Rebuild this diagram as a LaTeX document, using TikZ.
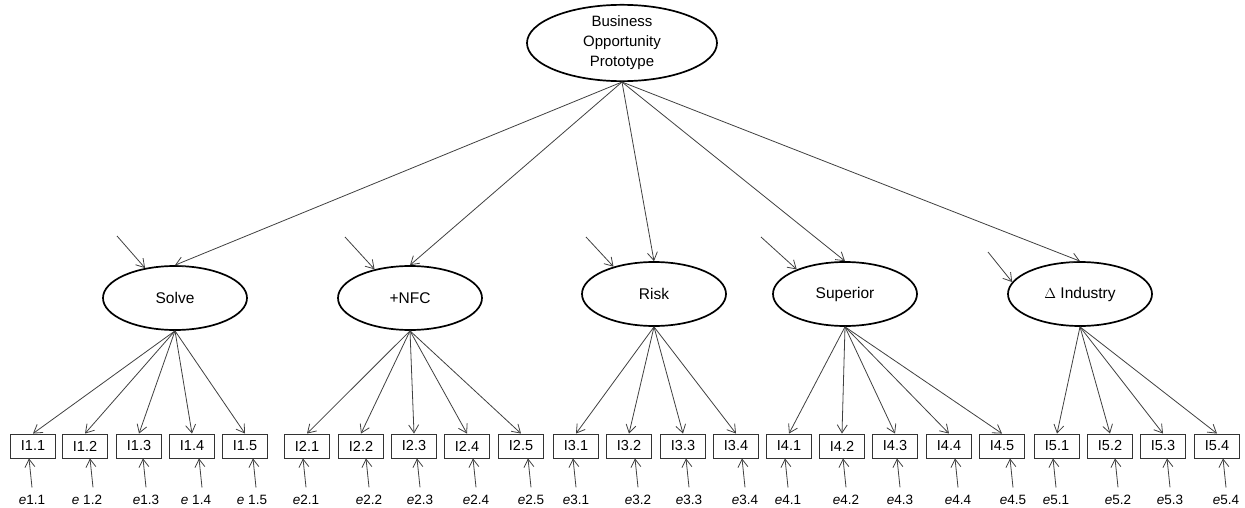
\documentclass[tikz,border=0pt]{standalone}
\usepackage{fontspec}
\setmainfont{Liberation Sans}
\usetikzlibrary{shapes.geometric,arrows.meta}

\tikzset{
  latent/.style={ellipse, draw=black, line width=1.7pt, fill=white,
    minimum width=144pt, minimum height=64pt, inner sep=0pt,
    font=\fontsize{15.5}{20}\selectfont},
  ind/.style={rectangle, draw=black!80, line width=0.9pt,
    minimum width=45pt, minimum height=24pt, inner sep=0pt,
    font=\fontsize{14.5}{16}\selectfont},
  err/.style={inner xsep=0pt, inner ysep=7pt, anchor=base,
    font=\fontsize{13.5}{15}\selectfont},
  conn/.style={draw=black!75, line width=0.8pt,
    -{Straight Barb[length=8pt,width=10pt]}},
}

\begin{document}
\begin{tikzpicture}[x=1pt,y=-1pt]
\useasboundingbox (0,0) rectangle (1245,508);

% second-order factor
\node[latent, minimum width=190pt, minimum height=72pt, align=center,
      font=\fontsize{15}{20}\selectfont] (top) at (622,43)
  {Business\\Opportunity\\Prototype};

% first-order factors
\node[latent] (f1) at (175,298) {Solve};
\node[latent] (f2) at (410,298) {+NFC};
\node[latent] (f3) at (654,294) {Risk};
\node[latent] (f4) at (845,294) {Superior};
\node[latent] (f5) at (1080,294) {$\Delta$ Industry};

% structural paths
\foreach \f in {1,...,5}
  \draw[conn] (top.south) -- (f\f.north);

% disturbances
\coordinate (d1) at (117,236);
\coordinate (d2) at (345,237);
\coordinate (d3) at (586,237);
\coordinate (d4) at (761,237);
\coordinate (d5) at (988,252);
\draw[conn] (d1) -- (f1.135);
\draw[conn] (d2) -- (f2.141);
\draw[conn] (d3) -- (f3.146);
\draw[conn] (d4) -- (f4.153);
\draw[conn] (d5) -- (f5.170);

% indicators: id / factor / box x / label / error label / tip offset / label shift
\foreach \n/\f/\x/\lab/\el/\tip/\lo in {
  11/1/33/I1.1/{\textit{e}1.1}/-4/0,
  12/1/85/I1.2/{\textit{e} 1.2}/5/6,
  13/1/139/I1.3/{\textit{e}1.3}/4/0,
  14/1/192/I1.4/{\textit{e} 1.4}/7/6,
  15/1/245/I1.5/{\textit{e} 1.5}/8/4,
  21/2/307/I2.1/{\textit{e}2.1}/-4/0,
  22/2/361/I2.2/{\textit{e}2.2}/5/0,
  23/2/414/I2.3/{\textit{e}2.3}/3/0,
  24/2/467/I2.4/{\textit{e}2.4}/6/0,
  25/2/521/I2.5/{\textit{e}2.5}/7/0,
  31/3/576/I3.1/{\textit{e}3.1}/-3/0,
  32/3/629/I3.2/{\textit{e}3.2}/6/0,
  33/3/683/I3.3/{\textit{e}3.3}/3/0,
  34/3/736/I3.4/{\textit{e}3.4}/6/0,
  41/4/789/I4.1/{\textit{e}4.1}/-4/0,
  42/4/842/I4.2/{\textit{e}4.2}/1/0,
  43/4/895/I4.3/{\textit{e}4.3}/2/0,
  44/4/949/I4.4/{\textit{e}4.4}/6/0,
  45/4/1002/I4.5/{\textit{e}4.5}/8/0,
  51/5/1057/I5.1/{\textit{e}5.1}/-4/0,
  52/5/1110/I5.2/{\textit{e}5.2}/5/0,
  53/5/1163/I5.3/{\textit{e}5.3}/4/0,
  54/5/1217/I5.4/{\textit{e}5.4}/6/0}{
  \node[ind] (b\n) at (\x,446) {\lab};
  \node[err] (e\n) at ({\x+\tip+3-\lo},504) {\el};
  \draw[conn] (f\f.south) -- (b\n.north);
  \draw[conn] ([xshift=\lo]e\n.north) -- ([xshift=\tip]b\n.south);
}
\end{tikzpicture}
\end{document}
